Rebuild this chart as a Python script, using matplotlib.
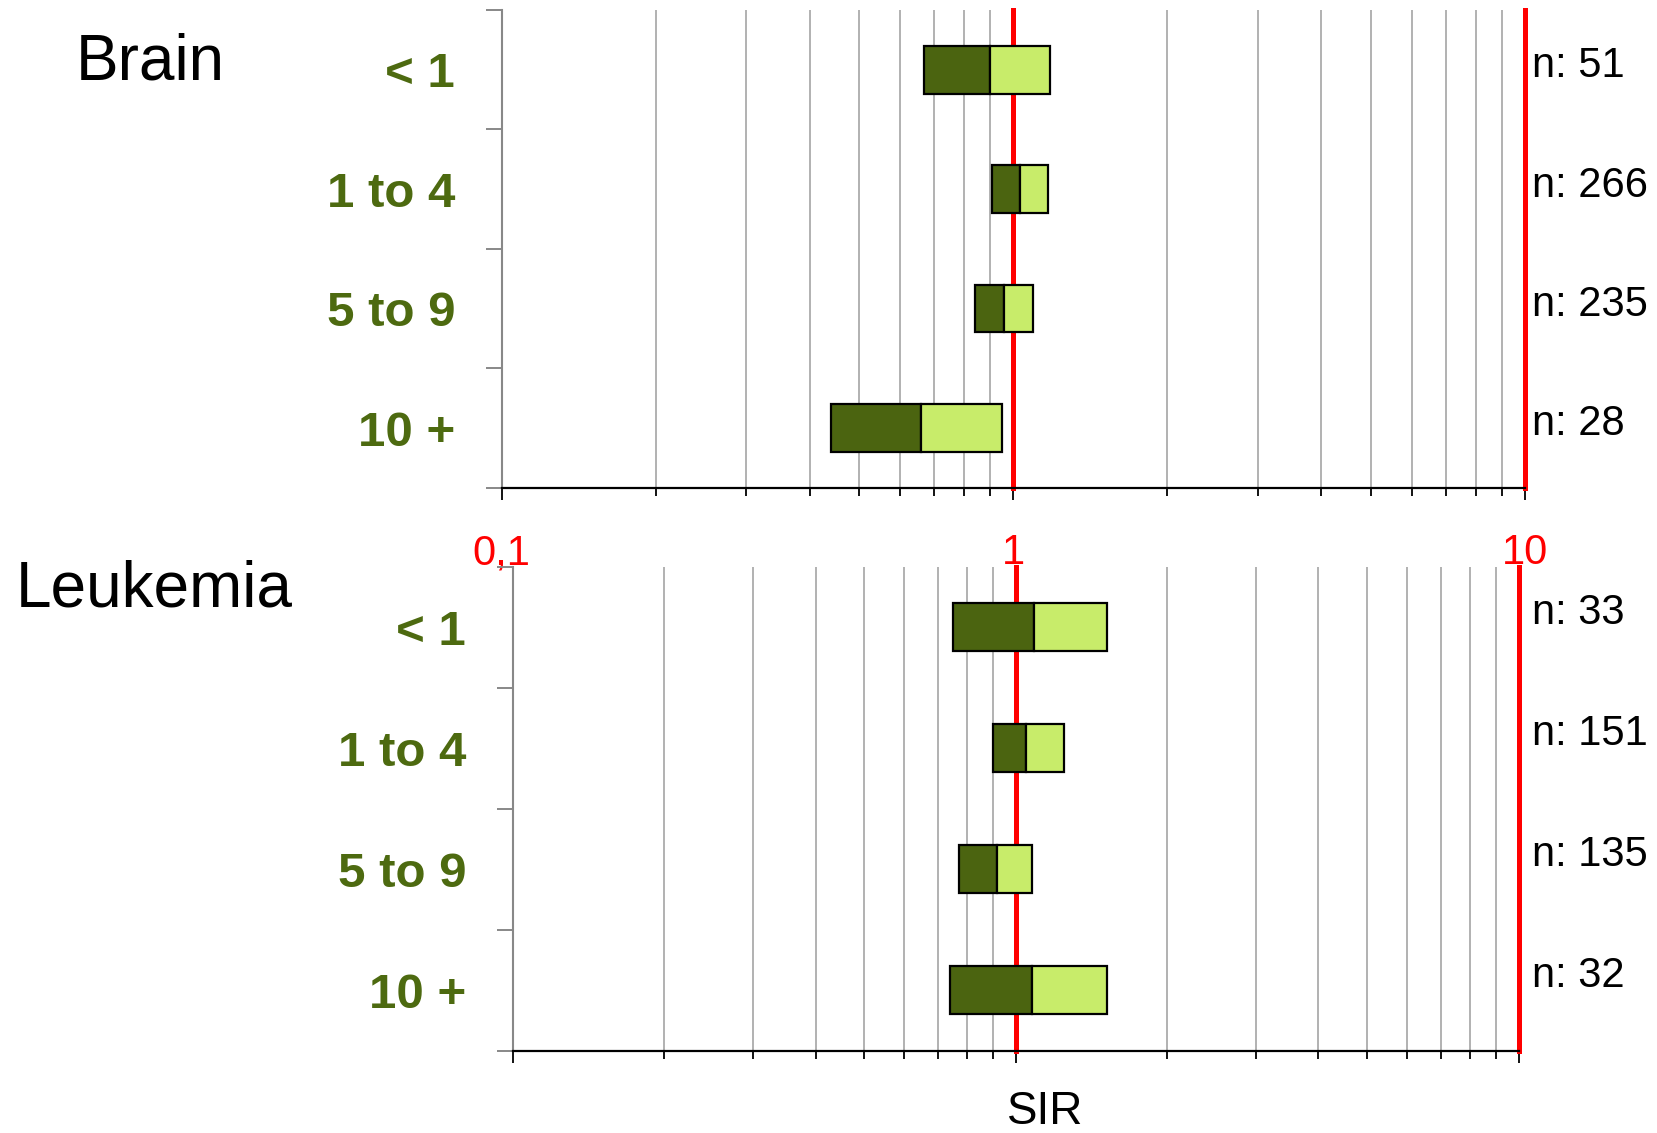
import numpy as np
import matplotlib
matplotlib.use('Agg')
import matplotlib.pyplot as plt
from matplotlib.ticker import FixedLocator, FixedFormatter, NullFormatter
from matplotlib.transforms import blended_transform_factory

plt.rcParams['font.family'] = ['Liberation Sans', 'DejaVu Sans']

age_groups = ['< 1', '1 to 4', '5 to 9', '10 +']

brain_lower = [0.67, 0.91, 0.84, 0.44]
brain_sir = [0.90, 1.03, 0.96, 0.66]
brain_upper = [1.18, 1.17, 1.09, 0.95]
brain_n = [51, 266, 235, 28]

leuk_lower = [0.75, 0.90, 0.77, 0.74]
leuk_sir = [1.09, 1.05, 0.92, 1.08]
leuk_upper = [1.52, 1.25, 1.08, 1.52]
leuk_n = [33, 151, 135, 32]

x_major = [0.1, 1, 10]
x_major_labels = ['0,1', '1', '10']
x_minor = [0.2, 0.3, 0.4, 0.5, 0.6, 0.7, 0.8, 0.9, 2, 3, 4, 5, 6, 7, 8, 9]

dark = '#4b6410'
light = '#c8ec6a'
label_green = '#4d6a10'

fig = plt.figure(figsize=(16.57, 11.33), dpi=100)
ax_top = fig.add_axes([0.3028, 0.5695, 0.6176, 0.4217])
ax_bot = fig.add_axes([0.3094, 0.0726, 0.6071, 0.4272])


def draw_panel(ax, lower, sir, upper, counts, label_pad, n_shift, show_labels):
    y = np.arange(len(age_groups)) + 0.5
    lower = np.array(lower)
    sir = np.array(sir)
    upper = np.array(upper)

    ax.set_xscale('log')
    ax.set_xlim(0.1, 10)
    ax.set_ylim(len(age_groups), 0)
    ax.set_axisbelow(True)

    ax.barh(y, sir - lower, left=lower, height=0.4, color=dark,
            edgecolor='black', linewidth=1.6, zorder=3)
    ax.barh(y, upper - sir, left=sir, height=0.4, color=light,
            edgecolor='black', linewidth=1.6, zorder=3)

    # reference lines at SIR 1 and 10 (the one at 10 sits on the axes edge)
    for xv in [1, 10]:
        ax.axvline(xv, color='#ff0000', lw=3.6, zorder=2, clip_on=False)

    ax.xaxis.set_major_locator(FixedLocator(x_major))
    ax.xaxis.set_minor_locator(FixedLocator(x_minor))
    ax.xaxis.set_minor_formatter(NullFormatter())
    if show_labels:
        ax.xaxis.set_major_formatter(FixedFormatter(x_major_labels))
    else:
        ax.xaxis.set_major_formatter(NullFormatter())
    ax.grid(which='minor', axis='x', color='#9c9c9c', lw=1.1)
    ax.tick_params(axis='x', which='major', length=8.6, width=1.3,
                   color='black', labelsize=30, labelcolor='#ff0000', pad=24)
    ax.tick_params(axis='x', which='minor', length=5.8, width=1.3,
                   color='black')

    ax.set_yticks(np.arange(len(age_groups) + 1))
    ax.set_yticks(y, minor=True)
    ax.set_yticklabels([])
    ax.set_yticklabels(age_groups, minor=True, fontsize=35.5,
                       fontweight='bold', color=label_green)
    ax.tick_params(axis='y', which='major', length=11.5, width=1.4,
                   color='#888888')
    ax.tick_params(axis='y', which='minor', length=0, pad=label_pad)

    for side in ['top', 'right']:
        ax.spines[side].set_visible(False)
    ax.spines['left'].set_color('#888888')
    ax.spines['left'].set_linewidth(1.5)
    ax.spines['bottom'].set_color('black')
    ax.spines['bottom'].set_linewidth(1.6)

    trans = blended_transform_factory(fig.transFigure, ax.transData)
    for yy, n in zip(y, counts):
        ax.text(0.9245, yy + n_shift, f'n: {n}', transform=trans,
                fontsize=30, color='black', va='center', ha='left')


draw_panel(ax_top, brain_lower, brain_sir, brain_upper, brain_n,
           label_pad=33.5, n_shift=-0.03, show_labels=True)
draw_panel(ax_bot, leuk_lower, leuk_sir, leuk_upper, leuk_n,
           label_pad=33.5, n_shift=-0.12, show_labels=False)

fig.text(0.0459, 0.9294, 'Brain', fontsize=46, va='baseline', ha='left')
fig.text(0.0097, 0.4651, 'Leukemia', fontsize=46, va='baseline', ha='left')
fig.text(0.6306, 0.008, 'SIR', fontsize=33, va='baseline', ha='center')

fig.savefig('out.png', dpi=100, facecolor='white')
